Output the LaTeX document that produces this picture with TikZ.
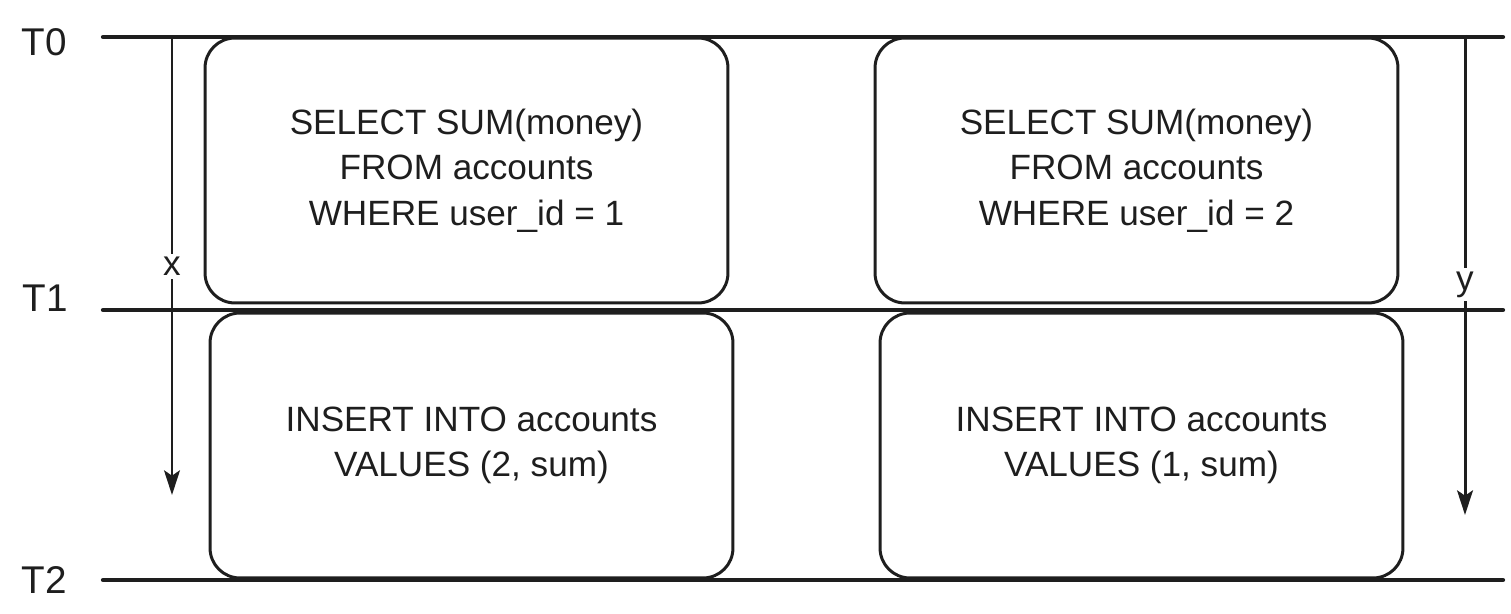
\documentclass[tikz,border=0pt]{standalone}
\usepackage{fontspec}
\setmainfont{Liberation Sans}
\usetikzlibrary{arrows.meta}
\definecolor{inkline}{HTML}{1E1E1E}

\tikzset{
  timeline/.style={inkline, line width=2.4pt, line cap=round},
  timelabel/.style={font=\fontsize{22}{25}\selectfont, text=inkline, anchor=center},
  querybox/.style={draw=inkline, line width=1.7pt, rounded corners=17pt, fill=white,
    minimum width=10.46cm, minimum height=5.3cm, align=center,
    font=\fontsize{20}{26}\selectfont, text=inkline},
  spanarrow/.style={inkline, line width=1.7pt, -{Stealth[length=14pt, width=9pt, inset=3pt]}},
  spanlabel/.style={fill=white, inner sep=2pt, font=\fontsize{20}{22}\selectfont, text=inkline}
}

\begin{document}
\begin{tikzpicture}[x=0.02cm, y=-0.02cm]
  \useasboundingbox (0,0) rectangle (1511,614);

  % time marks
  \node[timelabel] (t0) at (44,42) {T0};
  \node[timelabel] (t1) at (45,298) {T1};
  \node[timelabel] (t2) at (44,580) {T2};
  \coordinate (l0a) at (103,37);  \coordinate (l0b) at (1503,37);
  \coordinate (l1a) at (103,310); \coordinate (l1b) at (1503,310);
  \coordinate (l2a) at (103,580); \coordinate (l2b) at (1503,580);
  \draw[timeline] (l0a) -- (l0b);
  \draw[timeline] (l1a) -- (l1b);
  \draw[timeline] (l2a) -- (l2b);

  % queries
  \node[querybox] (selx) at (466.5,170.5) {SELECT SUM(money)\\FROM accounts\\WHERE user\_id = 1};
  \node[querybox] (sely) at (1136.5,170.5) {SELECT SUM(money)\\FROM accounts\\WHERE user\_id = 2};
  \node[querybox] (insx) at (471.5,445.5) {INSERT INTO accounts\\VALUES (2, sum)};
  \node[querybox] (insy) at (1141.5,445.5) {INSERT INTO accounts\\VALUES (1, sum)};

  % transactions
  \coordinate (xtop) at (172,38);  \coordinate (xend) at (172,495);
  \coordinate (ytop) at (1465,35); \coordinate (yend) at (1465,515);
  \draw[spanarrow] (xtop) -- node[spanlabel] (xlbl) {x} (xend);
  \draw[spanarrow] (ytop) -- node[spanlabel, pos=0.52] (ylbl) {y} (yend);
\end{tikzpicture}
\end{document}
